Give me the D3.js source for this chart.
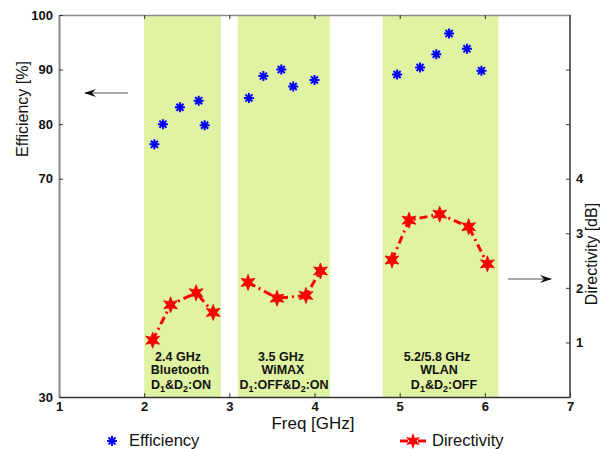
<!DOCTYPE html>
<html>
<head>
<meta charset="utf-8">
<script src="https://cdn.jsdelivr.net/npm/d3@7"></script>
<style>
  body { margin: 0; background: #fff; }
  svg { font-family: Arial, "Liberation Sans", sans-serif; }
</style>
</head>
<body>
<svg id="chart" width="600" height="449"></svg>
<script>
// frequency bands (shaded)
const bandStart = [2.0, 3.1, 4.8];
const bandEnd = [2.9, 4.18, 6.16];

// efficiency points [%]
const effFreq = [2.12, 2.22, 2.42, 2.64, 2.71, 3.23, 3.40, 3.61, 3.75, 4.00, 4.97, 5.24, 5.43, 5.58, 5.79, 5.96];
const effValue = [76.3, 80.0, 83.1, 84.3, 79.8, 84.8, 88.8, 90.0, 86.9, 88.1, 89.1, 90.4, 92.8, 96.6, 93.8, 89.8];

// directivity [dB], one line per band
const dirFreq = [[2.10, 2.31, 2.61, 2.81], [3.22, 3.56, 3.90, 4.07], [4.91, 5.11, 5.47, 5.81, 6.03]];
const dirValue = [[1.04, 1.69, 1.91, 1.55], [2.10, 1.81, 1.86, 2.31], [2.51, 3.24, 3.35, 3.12, 2.44]];

// band labels
const bandLabel1 = ['2.4 GHz', '3.5 GHz', '5.2/5.8 GHz'];
const bandLabel2 = ['Bluetooth', 'WiMAX', 'WLAN'];
const bandLabel3 = [
  [['D', 0], ['1', 1], ['&D', 0], ['2', 1], [':ON', 0]],
  [['D', 0], ['1', 1], [':OFF&D', 0], ['2', 1], [':ON', 0]],
  [['D', 0], ['1', 1], ['&D', 0], ['2', 1], [':OFF', 0]]
];

const xTicks = [1, 2, 3, 4, 5, 6, 7];
const effTicks = [30, 70, 80, 90, 100];
const dirTicks = [1, 2, 3, 4, 5, 6];
const dirTickLabels = [1, 2, 3, 4];

const plotL = 59, plotR = 570, plotT = 15, plotB = 397;

const svg = d3.select('#chart');

const x = d3.scaleLinear().domain([1, 7]).range([plotL, plotR]);
const yEff = d3.scaleLinear().domain([30, 100]).range([plotB, plotT]);
const yDir = d3.scaleLinear().domain([0, 7]).range([plotB, plotT]);

// bands
svg.selectAll('.band')
  .data(bandStart)
  .enter().append('rect')
  .attr('class', 'band')
  .attr('x', d => x(d))
  .attr('y', plotT)
  .attr('width', (d, i) => x(bandEnd[i]) - x(d))
  .attr('height', plotB - plotT)
  .attr('fill', '#e0f3a2');

const tickFont = g => g.selectAll('.tick text')
  .attr('font-size', 13).attr('font-weight', 'bold')
  .attr('font-family', 'Arial, "Liberation Sans", sans-serif').attr('fill', '#111');

// top frame
svg.append('g')
  .attr('transform', `translate(0,${plotT})`)
  .call(d3.axisTop(x).tickValues(xTicks.slice(1, -1)).tickSizeInner(-4).tickSizeOuter(0).tickFormat(''))
  .call(g => g.select('.domain').attr('stroke', '#8a8a8a').attr('stroke-width', 1.5))
  .call(g => g.selectAll('.tick line').attr('stroke', '#333'));

// bottom axis
svg.append('g')
  .attr('transform', `translate(0,${plotB})`)
  .call(d3.axisBottom(x).tickValues(xTicks).tickFormat(d3.format('d'))
    .tickSizeInner(-4).tickSizeOuter(0).tickPadding(5))
  .call(g => g.select('.domain').attr('stroke', '#333').attr('stroke-width', 1.5))
  .call(g => g.selectAll('.tick line').attr('stroke', '#333'))
  .call(tickFont);

// left axis (efficiency)
svg.append('g')
  .attr('transform', `translate(${plotL},0)`)
  .call(d3.axisLeft(yEff).tickValues(effTicks).tickSizeInner(-4).tickSizeOuter(0).tickPadding(6))
  .call(g => g.select('.domain').attr('stroke', '#8a8a8a').attr('stroke-width', 2))
  .call(g => g.selectAll('.tick line').attr('stroke', '#333'))
  .call(tickFont);

// right axis (directivity)
svg.append('g')
  .attr('transform', `translate(${plotR},0)`)
  .call(d3.axisRight(yDir).tickValues(dirTicks).tickSizeInner(-4).tickSizeOuter(0).tickPadding(6)
    .tickFormat(d => dirTickLabels.includes(d) ? d : ''))
  .call(g => g.select('.domain').attr('stroke', '#333').attr('stroke-width', 1.5)
    .attr('d', `M0,${plotT}V${plotB}`))
  .call(g => g.selectAll('.tick line').attr('stroke', '#333'))
  .call(tickFont);

// axis titles
svg.append('text')
  .attr('transform', 'translate(28,109) rotate(-90)')
  .attr('text-anchor', 'middle')
  .attr('font-size', 16)
  .attr('fill', '#111')
  .text('Efficiency [%]');

svg.append('text')
  .attr('transform', 'translate(597,254) rotate(-90)')
  .attr('text-anchor', 'middle')
  .attr('font-size', 16)
  .attr('fill', '#111')
  .text('Directivity [dB]');

svg.append('text')
  .attr('x', 313)
  .attr('y', 429)
  .attr('text-anchor', 'middle')
  .attr('font-size', 17)
  .attr('fill', '#111')
  .text('Freq [GHz]');

// arrows
const defs = svg.append('defs');
defs.append('marker')
  .attr('id', 'arrowhead')
  .attr('viewBox', '0 0 12 8')
  .attr('refX', 11).attr('refY', 4)
  .attr('markerWidth', 12).attr('markerHeight', 8)
  .attr('markerUnits', 'userSpaceOnUse')
  .attr('orient', 'auto')
  .append('path')
  .attr('d', 'M0,0 L12,4 L0,8 L4,4 Z')
  .attr('fill', '#111');

svg.append('line')
  .attr('x1', 128).attr('y1', 93).attr('x2', 85).attr('y2', 93)
  .attr('stroke', '#555').attr('stroke-width', 1.2)
  .attr('marker-end', 'url(#arrowhead)');

svg.append('line')
  .attr('x1', 508).attr('y1', 279).attr('x2', 551).attr('y2', 279)
  .attr('stroke', '#555').attr('stroke-width', 1.2)
  .attr('marker-end', 'url(#arrowhead)');

// marker shapes
function hexagram(r) {
  const pts = [];
  for (let k = 0; k < 12; k++) {
    const a = -Math.PI / 2 + k * Math.PI / 6;
    const rr = k % 2 === 0 ? r : r * 0.45;
    pts.push([rr * Math.cos(a), rr * Math.sin(a)]);
  }
  return 'M' + pts.map(p => p.join(',')).join('L') + 'Z';
}
function asterisk(r) {
  const d = r * Math.SQRT1_2;
  return `M${-r},0L${r},0M0,${-r}L0,${r}M${-d},${-d}L${d},${d}M${-d},${d}L${d},${-d}`;
}

// directivity lines
const line = d3.line().x(d => x(d[0])).y(d => yDir(d[1]));
dirFreq.forEach((fs, i) => {
  const pts = fs.map((f, j) => [f, dirValue[i][j]]);
  svg.append('path')
    .datum(pts)
    .attr('d', line)
    .attr('fill', 'none')
    .attr('stroke', '#ff0000')
    .attr('stroke-width', 3)
    .attr('stroke-dasharray', '8,4,2,4');
  svg.selectAll(null)
    .data(pts)
    .enter().append('path')
    .attr('transform', d => `translate(${x(d[0])},${yDir(d[1])})`)
    .attr('d', hexagram(8))
    .attr('fill', '#ff0000')
    .attr('stroke', '#e00000')
    .attr('stroke-width', 0.8);
});

// efficiency markers
svg.selectAll('.eff')
  .data(effFreq)
  .enter().append('path')
  .attr('class', 'eff')
  .attr('transform', (d, i) => `translate(${x(d)},${yEff(effValue[i])})`)
  .attr('d', asterisk(5))
  .attr('stroke', '#0000ff')
  .attr('stroke-width', 2)
  .attr('fill', 'none');

// band labels
const labelX = [180, 283, 439];
bandStart.forEach((b, i) => {
  svg.append('text')
    .attr('x', labelX[i] - 2).attr('y', 361)
    .attr('text-anchor', 'middle').attr('font-size', 12.5).attr('font-weight', 'bold').attr('fill', '#111')
    .text(bandLabel1[i]);
  svg.append('text')
    .attr('x', labelX[i]).attr('y', 374)
    .attr('text-anchor', 'middle').attr('font-size', 12.5).attr('font-weight', 'bold').attr('fill', '#111')
    .text(bandLabel2[i]);
  const t = svg.append('text')
    .attr('x', labelX[i] + (i === 2 ? 5 : 1)).attr('y', 389)
    .attr('text-anchor', 'middle').attr('font-size', 12.5).attr('font-weight', 'bold').attr('fill', '#111');
  bandLabel3[i].forEach(([s, sub]) => {
    t.append('tspan')
      .attr('font-size', sub ? 9 : 12.5)
      .attr('baseline-shift', sub ? '-3' : null)
      .text(s);
  });
});

// legend
svg.append('path')
  .attr('transform', 'translate(112,441)')
  .attr('d', asterisk(5))
  .attr('stroke', '#0000ff').attr('stroke-width', 2).attr('fill', 'none');
svg.append('text')
  .attr('x', 129).attr('y', 446)
  .attr('font-size', 16.5).attr('fill', '#111')
  .text('Efficiency');

svg.append('line')
  .attr('x1', 400).attr('y1', 441).attr('x2', 427).attr('y2', 441)
  .attr('stroke', '#ff0000').attr('stroke-width', 3).attr('stroke-dasharray', '8,4,2,4');
svg.append('path')
  .attr('transform', 'translate(413,441)')
  .attr('d', hexagram(8))
  .attr('fill', '#ff0000');
svg.append('text')
  .attr('x', 432).attr('y', 446)
  .attr('font-size', 16.5).attr('fill', '#111')
  .text('Directivity');
</script>
</body>
</html>
